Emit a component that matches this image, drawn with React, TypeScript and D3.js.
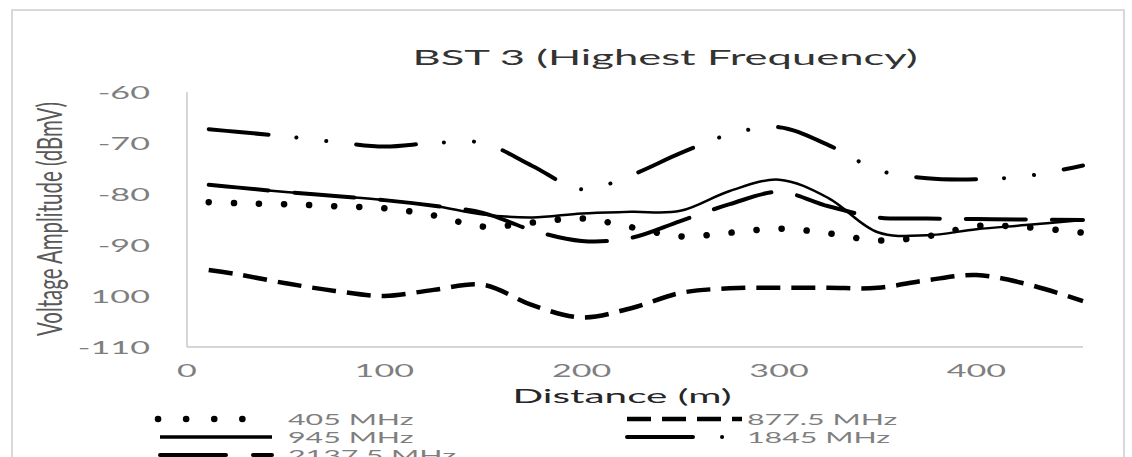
import React from "react";
import * as d3 from "d3";

// distance (m) of each sample point, shared by all series
const distances = [11, 25, 50, 75, 100, 125, 150, 175, 200, 225, 250, 275, 300, 325, 350, 375, 400, 425, 454];

const mhz405 = [-81.6, -81.8, -82.0, -82.4, -82.8, -84.2, -86.4, -85.6, -84.8, -86.5, -88.3, -87.6, -86.8, -87.7, -89.1, -88.3, -86.3, -86.5, -87.6];
const mhz877 = [-94.9, -95.7, -97.5, -99.0, -100.0, -98.8, -97.8, -101.8, -104.2, -102.4, -99.4, -98.5, -98.4, -98.4, -98.4, -96.9, -95.9, -97.6, -101.0];
const mhz945 = [-78.2, -78.7, -79.6, -80.4, -81.2, -82.3, -84.0, -84.6, -83.8, -83.5, -83.3, -79.4, -77.2, -80.8, -87.5, -88.1, -86.9, -86.1, -85.1];
const mhz1845 = [-67.3, -67.8, -68.7, -69.8, -70.7, -70.0, -70.0, -74.5, -79.1, -76.3, -72.0, -68.3, -66.9, -70.4, -75.3, -76.9, -77.1, -76.5, -74.4];
const mhz2137 = [-78.2, -78.7, -79.6, -80.4, -81.2, -82.3, -83.7, -87.1, -89.2, -88.6, -85.3, -82.0, -79.6, -82.4, -84.6, -84.8, -84.9, -85.0, -85.1];

const seriesNames = ["405 MHz", "877.5 MHz", "945 MHz", "1845 MHz", "2137.5 MHz"];
const seriesValues = [mhz405, mhz877, mhz945, mhz1845, mhz2137];

const yTicks = [-60, -70, -80, -90, -100, -110];
const yTickLabels = ["-60", "-70", "-80", "-90", "100", "-110"];
const xTicks = [0, 100, 200, 300, 400];

const W = 1132;
const H = 457;
const SX = 1.9; // the picture is stretched sideways

const styles = [
  { width: 6.5, dash: "0.1,25", legendDash: "0.1,28", cap: "round" },
  { width: 4.5, dash: "24,11", legendDash: "24,11", cap: "butt" },
  { width: 2.5, dash: null, legendDash: null, cap: "butt", legendWidth: 3.5 },
  { width: 4, dash: "60,28,0.1,30,0.1,30", legendDash: "66,29,0.1,40", cap: "round" },
  { width: 4, dash: "60,26", legendDash: "66,27", cap: "round" },
];

// legend slots: [sample x0, sample x1, text x, row y]
const legendSlots = [
  [158, 270, 288, 419],
  [627, 742, 747, 419],
  [160, 272, 288, 437],
  [627, 742, 747, 437],
  [160, 272, 288, 455],
];

const Stretch = ({ x, y, anchor = "start", size, fill, len, children }: any) => (
  <text
    transform={`translate(${x},${y}) scale(${SX},1)`}
    textAnchor={anchor}
    fontSize={size}
    fill={fill}
    textLength={len}
    lengthAdjust={len ? "spacingAndGlyphs" : undefined}
  >
    {children}
  </text>
);

export default function App() {
  const x = d3.scaleLinear().domain([0, 454]).range([187, 1083]);
  const y = d3.scaleLinear().domain([-110, -60]).range([347, 92]);

  const line = d3
    .line<number>()
    .x((_, i) => x(distances[i]))
    .y((d) => y(d))
    .curve(d3.curveCatmullRom.alpha(0.5));

  // draw order: 2137.5 on top of 945 so the overlap reads as one thick line
  const order = [1, 0, 2, 3, 4];

  return (
    <svg
      width={W}
      height={H}
      style={{ position: "absolute", left: 0, top: 0, background: "#fff" }}
      fontFamily="Lato, 'Open Sans', sans-serif"
    >
      <rect x={0} y={0} width={W} height={H} fill="#fff" />
      <rect x={12} y={10} width={1112} height={470} fill="#fff" stroke="#d9d9d9" strokeWidth={2} />

      <Stretch x={665} y={65} anchor="middle" size={21} fill="#333" len={505 / SX}>
        BST 3 (Highest Frequency)
      </Stretch>

      {/* axes */}
      <line x1={x(0)} x2={x(0)} y1={y(-60)} y2={y(-110)} stroke="#c8c8c8" strokeWidth={1.5} />
      <line x1={x(0)} x2={x(454)} y1={y(-110)} y2={y(-110)} stroke="#c8c8c8" strokeWidth={1.5} />

      {yTicks.map((t, i) => (
        <Stretch key={t} x={150} y={y(t) + 6.5} anchor="end" size={18} fill="#7f7f7f">
          {yTickLabels[i]}
        </Stretch>
      ))}
      {xTicks.map((t) => (
        <Stretch key={t} x={x(t)} y={377} anchor="middle" size={18} fill="#7f7f7f">
          {t}
        </Stretch>
      ))}

      <Stretch x={622} y={403} anchor="middle" size={20} fill="#262626" len={219 / SX}>
        Distance (m)
      </Stretch>
      <text
        transform={`translate(50,219) scale(1.8,1) rotate(-90)`}
        textAnchor="middle"
        dy="0.35em"
        fontSize={19}
        fill="#595959"
        textLength={234}
        lengthAdjust="spacingAndGlyphs"
      >
        Voltage Amplitude (dBmV)
      </text>

      {/* series */}
      {order.map((si) => {
        const s = styles[si];
        return (
          <path
            key={seriesNames[si]}
            d={line(seriesValues[si]) || ""}
            fill="none"
            stroke="#000"
            strokeWidth={s.width}
            strokeDasharray={s.dash || undefined}
            strokeLinecap={s.cap as any}
          />
        );
      })}

      {/* legend */}
      {seriesNames.map((name, i) => {
        const s = styles[i];
        const [x0, x1, tx, ry] = legendSlots[i];
        return (
          <g key={name}>
            <line
              x1={x0}
              x2={x1}
              y1={ry}
              y2={ry}
              stroke="#000"
              strokeWidth={s.legendWidth || s.width}
              strokeDasharray={s.legendDash || undefined}
              strokeLinecap={s.cap as any}
            />
            <Stretch x={tx} y={ry + 5.5} size={16} fill="#7f7f7f">
              {name}
            </Stretch>
          </g>
        );
      })}
    </svg>
  );
}
